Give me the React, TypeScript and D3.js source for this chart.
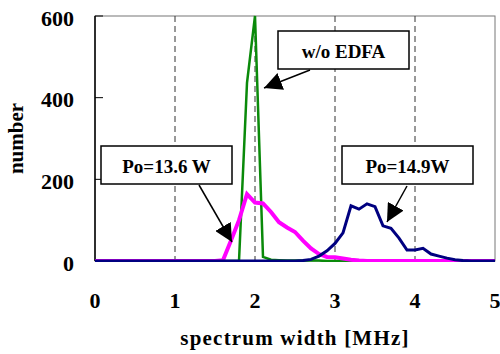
import React, { useEffect, useRef } from 'react'
import * as d3 from 'd3'

// spectrum width [MHz] sampled every 0.1
const xs = d3.range(0, 51).map(i => i / 10)

// w/o EDFA (green)
const greenValues = [
  0, 0, 0, 0, 0, 0, 0, 0, 0, 0, 0, 0, 0, 0, 0, 0, 0, 0, 0, 436, 600, 10, 3, 2, 1, 1, 1, 1, 1, 0, 0,
  0, 0, 0, 0, 0, 0, 0, 0, 0, 0, 0, 0, 0, 0, 0, 0, 0, 0, 0, 0,
]

// Po=13.6 W (magenta)
const magentaValues = [
  0, 0, 0, 0, 0, 0, 0, 0, 0, 0, 0, 0, 0, 0, 0, 0, 2, 50, 100, 164, 143, 141, 120, 95, 82, 71, 50, 31, 17, 10, 9,
  6, 3, 1, 0, 0, 0, 0, 0, 0, 0, 0, 0, 0, 0, 0, 0, 0, 0, 0, 0,
]

// Po=14.9W (navy)
const blueValues = [
  0, 0, 0, 0, 0, 0, 0, 0, 0, 0, 0, 0, 0, 0, 0, 0, 0, 0, 0, 0, 0, 0, 0, 0, 0, 0, 1, 4, 12, 25, 43,
  69, 135, 127, 140, 133, 86, 80, 56, 27, 27, 31, 17, 12, 7, 3, 1, 0, 0, 0, 0,
]

const xTicks = [0, 1, 2, 3, 4, 5]
const yTicks = [0, 200, 400, 600]
const gridX = [1, 2, 3, 4]

const W = 500
const H = 354
const margin = { left: 95, right: 5, top: 16, bottom: 93 }

export default function App() {
  const svgRef = useRef<SVGSVGElement>(null)

  useEffect(() => {
    if (!svgRef.current) return
    const svg = d3.select(svgRef.current)
    svg.selectAll('*').remove()

    const x = d3.scaleLinear().domain([0, 5]).range([margin.left, W - margin.right])
    const y = d3.scaleLinear().domain([0, 600]).range([H - margin.bottom, margin.top])
    const font = '"Liberation Serif", "Times New Roman", serif'

    const defs = svg.append('defs')
    defs
      .append('clipPath')
      .attr('id', 'plot-clip')
      .append('rect')
      .attr('x', x(0))
      .attr('y', y(600) - 1)
      .attr('width', x(5) - x(0))
      .attr('height', y(0) - y(600) + 2)
    defs
      .append('marker')
      .attr('id', 'arrow')
      .attr('viewBox', '0 0 10 10')
      .attr('refX', 10)
      .attr('refY', 5)
      .attr('markerWidth', 18)
      .attr('markerHeight', 18)
      .attr('markerUnits', 'userSpaceOnUse')
      .attr('orient', 'auto')
      .append('path')
      .attr('d', 'M0,0 L10,5 L0,10 Z')
      .attr('fill', '#000')

    // plot frame
    svg
      .append('rect')
      .attr('x', x(0))
      .attr('y', y(600))
      .attr('width', x(5) - x(0))
      .attr('height', y(0) - y(600))
      .attr('fill', 'none')
      .attr('stroke', '#777')
      .attr('stroke-width', 1)

    // dashed grid
    svg
      .append('g')
      .selectAll('line')
      .data(gridX)
      .enter()
      .append('line')
      .attr('x1', d => x(d))
      .attr('x2', d => x(d))
      .attr('y1', y(600))
      .attr('y2', y(0))
      .attr('stroke', '#333')
      .attr('stroke-width', 1)
      .attr('stroke-dasharray', '6,4')

    // left axis line + inward ticks
    svg
      .append('line')
      .attr('x1', x(0))
      .attr('x2', x(0))
      .attr('y1', y(600))
      .attr('y2', y(0))
      .attr('stroke', '#000')
      .attr('stroke-width', 1.5)
    svg
      .append('g')
      .selectAll('line')
      .data(yTicks)
      .enter()
      .append('line')
      .attr('x1', x(0))
      .attr('x2', x(0) + 8)
      .attr('y1', d => y(d))
      .attr('y2', d => y(d))
      .attr('stroke', '#000')
      .attr('stroke-width', 1)

    svg
      .append('g')
      .selectAll('text')
      .data(yTicks)
      .enter()
      .append('text')
      .attr('x', x(0) - 21)
      .attr('y', d => y(d) + 2)
      .attr('text-anchor', 'end')
      .attr('dominant-baseline', 'central')
      .style('font-family', font)
      .style('font-weight', 'bold')
      .style('font-size', '22px')
      .text(d => d)

    svg
      .append('g')
      .selectAll('text')
      .data(xTicks)
      .enter()
      .append('text')
      .attr('x', d => x(d))
      .attr('y', 300)
      .attr('text-anchor', 'middle')
      .attr('dominant-baseline', 'central')
      .style('font-family', font)
      .style('font-weight', 'bold')
      .style('font-size', '22px')
      .text(d => d)

    svg
      .append('text')
      .attr('x', 295)
      .attr('y', 338)
      .attr('text-anchor', 'middle')
      .attr('dominant-baseline', 'central')
      .style('font-family', font)
      .style('font-weight', 'bold')
      .style('font-size', '21px')
      .style('letter-spacing', '1.2px')
      .text('spectrum width [MHz]')

    svg
      .append('text')
      .attr('transform', `translate(16, ${y(300)}) rotate(-90)`)
      .attr('text-anchor', 'middle')
      .attr('dominant-baseline', 'central')
      .style('font-family', font)
      .style('font-weight', 'bold')
      .style('font-size', '21px')
      .text('number')

    // series
    const series = [
      { values: greenValues, color: '#0a8a0a', width: 2.5 },
      { values: magentaValues, color: '#ff00ff', width: 4 },
      { values: blueValues, color: '#000080', width: 3 },
    ]
    const line = d3
      .line<number>()
      .x((_, i) => x(xs[i]))
      .y(d => y(d))

    const plot = svg.append('g').attr('clip-path', 'url(#plot-clip)')
    series.forEach(s => {
      plot
        .append('path')
        .attr('d', line(s.values) || '')
        .attr('fill', 'none')
        .attr('stroke', s.color)
        .attr('stroke-width', s.width)
        .attr('stroke-linejoin', 'miter')
    })

    // callouts
    const callouts = [
      { label: 'Po=13.6 W', box: [101, 146, 131, 38], from: [199, 185], to: [232, 242] },
      { label: 'w/o EDFA', box: [278, 31, 131, 38], from: [310, 70], to: [264, 88] },
      { label: 'Po=14.9W', box: [342, 146, 131, 38], from: [407, 186], to: [387, 222] },
    ]
    callouts.forEach(c => {
      const [bx, by, bw, bh] = c.box
      svg
        .append('line')
        .attr('x1', c.from[0])
        .attr('y1', c.from[1])
        .attr('x2', c.to[0])
        .attr('y2', c.to[1])
        .attr('stroke', '#000')
        .attr('stroke-width', 1.5)
        .attr('marker-end', 'url(#arrow)')
      svg
        .append('rect')
        .attr('x', bx)
        .attr('y', by)
        .attr('width', bw)
        .attr('height', bh)
        .attr('fill', '#fff')
        .attr('stroke', '#000')
        .attr('stroke-width', 1.5)
      svg
        .append('text')
        .attr('x', bx + bw / 2)
        .attr('y', by + bh / 2 + 1)
        .attr('text-anchor', 'middle')
        .attr('dominant-baseline', 'central')
        .style('font-family', font)
        .style('font-weight', 'bold')
        .style('font-size', '19px')
        .text(c.label)
    })
  }, [])

  return (
    <svg
      ref={svgRef}
      width={W}
      height={H}
      style={{ position: 'absolute', left: 0, top: 0, background: '#fff' }}
    />
  )
}
